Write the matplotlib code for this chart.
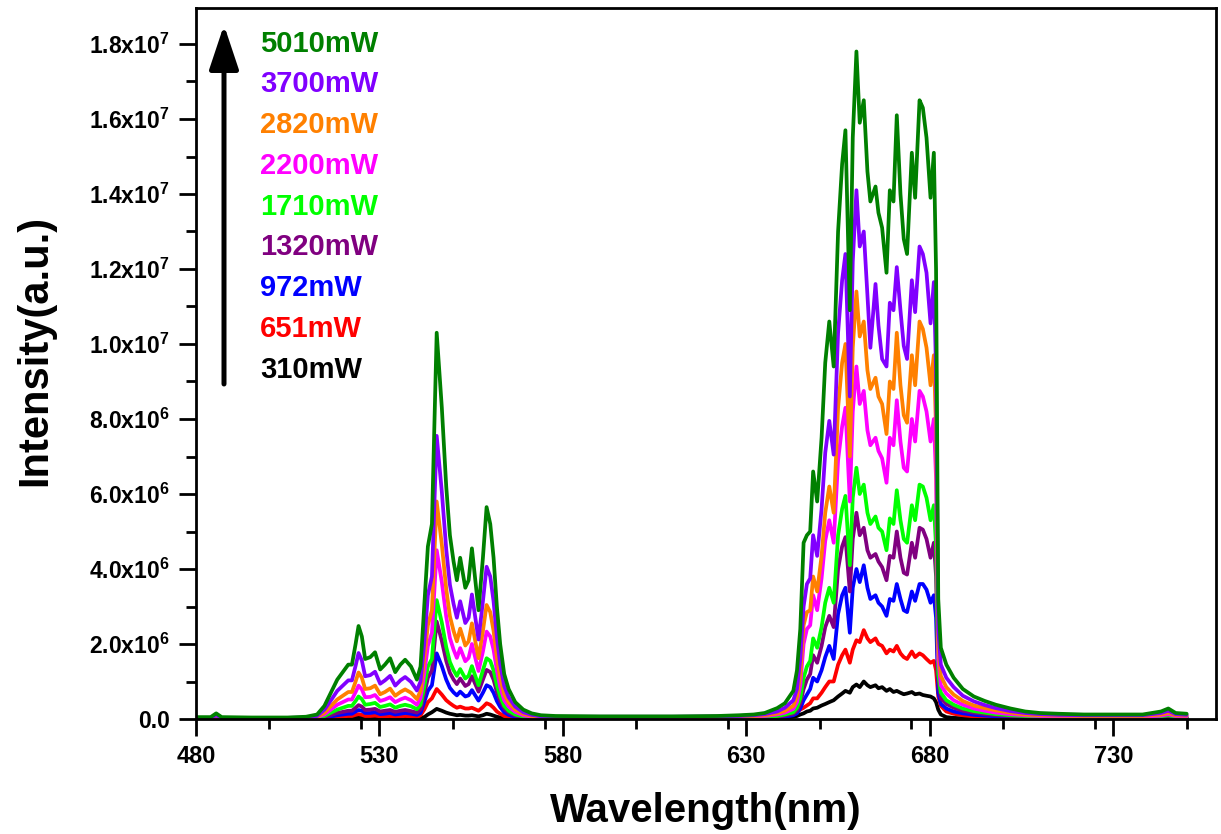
import matplotlib
matplotlib.use('Agg')
import matplotlib.pyplot as plt
from matplotlib.ticker import MultipleLocator

# ---------------- data (intensity in units of 1e6 a.u.) ----------------
wavelength = [480, 484, 485.5, 487, 495, 505, 510, 513,
              515, 517, 518.5, 520, 521.5, 522.5, 523.5, 524.3, 525.2, 526.1, 527.5, 528.8,
              530.2, 531.5, 532.9, 534.3, 535.7, 537.0, 538.6, 540.2,
              541.2, 542.2, 543.2, 544.3, 545.6, 547.0, 548.2, 549.2, 550.2, 551.1,
              552.0, 553.4, 554.3, 555.2, 557.0, 558.2, 559.2, 560.2, 561.1, 562.0,
              562.9, 564.0, 565.2, 567, 569.2, 571.5, 574, 578,
              590, 610, 622, 628, 632, 635,
              638.4, 640.5, 642.8, 643.8, 644.7, 645.6, 646.5, 647.4, 648.2, 649.3, 650.5, 651.5, 652.6, 653.8,
              655.0, 656.1, 657.0, 658.2, 659.0, 660.0, 660.9, 662.0, 663.0, 663.8,
              665.2, 666.0, 667.0, 668.2, 669.1, 670.1, 671.0, 672.0, 672.9, 673.8,
              675.1, 676.0, 677.2, 678.1, 679.1, 680.2, 681.1, 681.7,
              682.3, 683.0, 684.5, 686.5, 689, 692, 695, 698, 702, 706,
              710, 715, 722, 730, 738, 743, 745, 747, 750]

p5010 = [0.05, 0.05, 0.15, 0.05, 0.04, 0.04, 0.06, 0.12,
         0.35, 0.75, 1.05, 1.25, 1.45, 1.45, 2.0, 2.48, 2.2, 1.6, 1.65, 1.78, 1.32, 1.45, 1.62, 1.25, 1.45, 1.58, 1.4, 1.05,
         1.4, 3.0, 4.6, 5.2, 10.3, 8.3, 6.2, 4.9, 4.2, 3.7, 4.3, 3.5, 3.7, 4.55, 2.9, 4.3, 5.65, 5.2, 4.3, 3.0, 2.0, 1.2, 0.8, 0.45, 0.25, 0.15, 0.1, 0.08,
         0.07, 0.07, 0.08, 0.1, 0.12, 0.16,
         0.29, 0.42, 0.75, 1.3, 2.4, 4.7, 4.9, 5.0, 6.6, 5.8, 7.5, 9.5, 10.6, 9.4,
         13.0, 14.8, 15.7, 10.9, 15.5, 17.8, 15.9, 16.5, 14.6, 13.8, 14.2, 13.5, 13.1, 11.9, 14.1, 13.8, 16.1, 14.0, 12.8, 12.4, 15.1, 13.9, 16.5, 16.3, 15.5, 13.9, 15.1, 12.0,
         3.2, 1.9, 1.45, 1.1, 0.8, 0.6, 0.48, 0.38, 0.28, 0.2, 0.16, 0.14, 0.12, 0.12, 0.12, 0.2, 0.28, 0.16, 0.14]

p3700 = [0.03, 0.03, 0.1, 0.03, 0.03, 0.03, 0.04, 0.08,
         0.25, 0.53, 0.75, 0.89, 1.03, 1.03, 1.42, 1.76, 1.56, 1.14, 1.17, 1.26, 0.94, 1.03, 1.15, 0.89, 1.03, 1.12, 0.99, 0.76,
         1.0, 2.0, 3.3, 3.8, 7.55, 6.06, 4.53, 3.58, 3.07, 2.7, 3.14, 2.56, 2.7, 3.32, 2.12, 3.14, 4.06, 3.8, 3.14, 2.19, 1.46, 0.88, 0.58, 0.33, 0.18, 0.11, 0.07, 0.06,
         0.06, 0.06, 0.07, 0.08, 0.1, 0.13,
         0.2, 0.3, 0.5, 0.8, 1.6, 3.0, 3.6, 3.75, 4.9, 4.35, 5.6, 7.1, 7.95, 7.05,
         10.3, 11.7, 12.4, 8.6, 12.2, 14.1, 12.6, 13.0, 11.3, 9.9, 11.6, 10.5, 9.6, 9.4, 11.1, 10.9, 12.05, 10.9, 9.95, 9.6, 11.7, 10.85, 12.6, 12.4, 11.9, 10.55, 11.65, 9.3,
         2.4, 1.45, 1.1, 0.85, 0.62, 0.47, 0.37, 0.29, 0.21, 0.16, 0.13, 0.11, 0.1, 0.1, 0.1, 0.16, 0.22, 0.13, 0.11]

p2820 = [0.03, 0.03, 0.08, 0.03, 0.02, 0.02, 0.03, 0.06,
         0.17, 0.37, 0.52, 0.62, 0.72, 0.72, 1.0, 1.24, 1.1, 0.8, 0.82, 0.89, 0.66, 0.72, 0.81, 0.62, 0.72, 0.79, 0.7, 0.53,
         0.75, 1.6, 2.5, 2.9, 5.8, 4.65, 3.47, 2.74, 2.35, 2.07, 2.41, 1.96, 2.07, 2.55, 1.62, 2.35, 3.04, 2.85, 2.35, 1.65, 1.1, 0.66, 0.44, 0.25, 0.14, 0.08, 0.06, 0.05,
         0.05, 0.05, 0.06, 0.07, 0.08, 0.1,
         0.15, 0.22, 0.35, 0.6, 1.2, 2.5, 2.85, 2.9, 3.8, 3.4, 4.35, 5.5, 6.2, 5.5,
         8.3, 9.5, 10.0, 7.0, 9.9, 11.4, 10.2, 10.6, 9.3, 8.8, 9.1, 8.6, 8.4, 7.6, 9.0, 8.8, 10.3, 8.9, 8.1, 7.9, 9.7, 8.9, 10.6, 10.4, 9.9, 8.9, 9.7, 7.7,
         2.0, 1.15, 0.85, 0.65, 0.48, 0.36, 0.29, 0.23, 0.17, 0.12, 0.1, 0.09, 0.08, 0.08, 0.08, 0.12, 0.17, 0.1, 0.09]

p2200 = [0.02, 0.02, 0.06, 0.02, 0.02, 0.02, 0.03, 0.05,
         0.12, 0.27, 0.38, 0.45, 0.52, 0.52, 0.72, 0.89, 0.79, 0.58, 0.59, 0.64, 0.48, 0.52, 0.58, 0.45, 0.52, 0.57, 0.5, 0.38,
         0.56, 1.2, 1.95, 2.3, 4.5, 3.65, 2.73, 2.16, 1.85, 1.63, 1.89, 1.54, 1.63, 2.0, 1.28, 1.8, 2.33, 2.2, 1.85, 1.3, 0.86, 0.5, 0.33, 0.19, 0.1, 0.06, 0.05, 0.04,
         0.04, 0.04, 0.05, 0.06, 0.07, 0.08,
         0.12, 0.17, 0.27, 0.45, 0.9, 2.0, 2.4, 2.5, 3.3, 2.9, 3.75, 4.75, 5.3, 4.7,
         6.9, 7.8, 8.3, 5.8, 8.2, 9.4, 8.4, 8.75, 7.7, 7.3, 7.5, 7.15, 6.95, 6.3, 7.5, 7.3, 8.5, 7.4, 6.7, 6.6, 8.0, 7.4, 8.75, 8.6, 8.2, 7.4, 8.0, 6.4,
         1.6, 0.9, 0.68, 0.5, 0.38, 0.28, 0.22, 0.17, 0.13, 0.1, 0.08, 0.07, 0.06, 0.06, 0.06, 0.09, 0.13, 0.08, 0.07]

p1710 = [0.02, 0.02, 0.05, 0.02, 0.02, 0.02, 0.02, 0.04,
         0.08, 0.18, 0.25, 0.3, 0.35, 0.35, 0.48, 0.6, 0.53, 0.38, 0.4, 0.43, 0.32, 0.35, 0.39, 0.3, 0.35, 0.38, 0.34, 0.26,
         0.38, 0.85, 1.4, 1.6, 3.17, 2.57, 1.92, 1.52, 1.3, 1.15, 1.33, 1.08, 1.15, 1.41, 0.9, 1.3, 1.62, 1.55, 1.3, 0.9, 0.6, 0.35, 0.22, 0.12, 0.07, 0.05, 0.04, 0.03,
         0.03, 0.03, 0.04, 0.05, 0.05, 0.06,
         0.08, 0.12, 0.18, 0.3, 0.55, 1.1, 1.4, 1.55, 2.15, 1.9, 2.45, 3.1, 3.5, 3.1,
         4.9, 5.6, 5.95, 4.1, 5.9, 6.7, 6.0, 6.25, 5.5, 5.2, 5.4, 5.1, 5.0, 4.5, 5.35, 5.2, 6.1, 5.3, 4.8, 4.7, 5.7, 5.3, 6.25, 6.2, 5.9, 5.3, 5.7, 4.6,
         1.2, 0.7, 0.5, 0.38, 0.28, 0.21, 0.17, 0.13, 0.1, 0.08, 0.06, 0.05, 0.05, 0.05, 0.05, 0.07, 0.1, 0.06, 0.05]

p1320 = [0.02, 0.02, 0.04, 0.02, 0.01, 0.01, 0.02, 0.03,
         0.05, 0.11, 0.16, 0.19, 0.22, 0.22, 0.3, 0.37, 0.33, 0.24, 0.25, 0.27, 0.2, 0.22, 0.24, 0.19, 0.22, 0.24, 0.21, 0.17,
         0.25, 0.65, 1.1, 1.3, 2.6, 2.08, 1.55, 1.23, 1.05, 0.93, 1.08, 0.88, 0.93, 1.14, 0.73, 1.05, 1.31, 1.25, 1.05, 0.72, 0.48, 0.28, 0.17, 0.09, 0.05, 0.04, 0.03, 0.03,
         0.03, 0.03, 0.03, 0.04, 0.04, 0.05,
         0.06, 0.09, 0.14, 0.22, 0.42, 0.8, 1.05, 1.2, 1.7, 1.5, 1.95, 2.45, 2.75, 2.45,
         4.0, 4.6, 4.85, 3.4, 4.8, 5.5, 4.9, 5.1, 4.5, 4.3, 4.4, 4.2, 4.05, 3.7, 4.35, 4.3, 5.0, 4.3, 3.9, 3.85, 4.7, 4.3, 5.1, 5.05, 4.8, 4.3, 4.7, 3.8,
         1.0, 0.55, 0.4, 0.3, 0.22, 0.17, 0.13, 0.1, 0.08, 0.06, 0.05, 0.04, 0.04, 0.04, 0.04, 0.06, 0.08, 0.05, 0.04]

p972 = [0.01, 0.01, 0.03, 0.01, 0.01, 0.01, 0.01, 0.02,
        0.03, 0.07, 0.1, 0.12, 0.14, 0.14, 0.2, 0.24, 0.22, 0.16, 0.16, 0.18, 0.13, 0.14, 0.16, 0.12, 0.14, 0.16, 0.14, 0.11,
        0.16, 0.45, 0.75, 0.9, 1.75, 1.41, 1.05, 0.83, 0.71, 0.63, 0.73, 0.6, 0.63, 0.77, 0.49, 0.7, 0.9, 0.85, 0.7, 0.48, 0.32, 0.18, 0.11, 0.06, 0.04, 0.03, 0.03, 0.02,
        0.02, 0.02, 0.03, 0.03, 0.03, 0.04,
        0.04, 0.06, 0.1, 0.15, 0.28, 0.5, 0.65, 0.8, 1.1, 1.0, 1.3, 1.65, 1.95, 1.6,
        2.8, 3.3, 3.5, 2.3, 3.5, 4.0, 3.65, 4.1, 3.5, 3.2, 3.3, 3.1, 3.0, 2.75, 3.2, 3.15, 3.6, 3.2, 2.9, 2.85, 3.4, 3.15, 3.6, 3.6, 3.45, 3.1, 3.3, 2.7,
        0.7, 0.4, 0.28, 0.2, 0.15, 0.11, 0.09, 0.07, 0.05, 0.04, 0.04, 0.03, 0.03, 0.03, 0.03, 0.04, 0.05, 0.03, 0.03]

p651 = [0.01, 0.01, 0.03, 0.01, 0.01, 0.01, 0.01, 0.01,
        0.01, 0.03, 0.05, 0.07, 0.08, 0.08, 0.11, 0.13, 0.11, 0.08, 0.08, 0.09, 0.07, 0.07, 0.08, 0.06, 0.07, 0.08, 0.07, 0.05,
        0.1, 0.25, 0.45, 0.55, 0.8, 0.65, 0.5, 0.42, 0.35, 0.3, 0.33, 0.28, 0.28, 0.3, 0.22, 0.32, 0.42, 0.38, 0.3, 0.2, 0.14, 0.08, 0.05, 0.03, 0.02, 0.02, 0.02, 0.02,
        0.02, 0.02, 0.02, 0.02, 0.03, 0.04,
        0.06, 0.1, 0.15, 0.2, 0.25, 0.3, 0.36, 0.42, 0.55, 0.55, 0.7, 0.85, 1.0, 1.0,
        1.45, 1.7, 1.85, 1.5, 1.85, 2.1, 2.05, 2.37, 2.15, 2.05, 2.15, 2.0, 1.95, 1.75, 1.85, 1.8, 1.95, 1.75, 1.65, 1.6, 1.8, 1.65, 1.75, 1.7, 1.6, 1.5, 1.55, 1.3,
        0.6, 0.35, 0.2, 0.14, 0.1, 0.07, 0.06, 0.05, 0.04, 0.03, 0.03, 0.03, 0.02, 0.02, 0.02, 0.03, 0.04, 0.02, 0.02]

p310 = [0.01, 0.01, 0.01, 0.01, 0.01, 0.01, 0.01, 0.01,
        0.0, 0.01, 0.01, 0.02, 0.02, 0.02, 0.03, 0.04, 0.03, 0.02, 0.02, 0.03, 0.02, 0.02, 0.02, 0.02, 0.02, 0.02, 0.02, 0.02,
        0.03, 0.05, 0.12, 0.18, 0.27, 0.22, 0.17, 0.14, 0.12, 0.1, 0.11, 0.09, 0.09, 0.1, 0.07, 0.1, 0.14, 0.12, 0.09, 0.06, 0.04, 0.02, 0.01, 0.01, 0.01, 0.01, 0.01, 0.01,
        0.01, 0.01, 0.01, 0.01, 0.01, 0.01,
        0.02, 0.03, 0.06, 0.08, 0.12, 0.15, 0.2, 0.22, 0.28, 0.3, 0.36, 0.4, 0.45, 0.5,
        0.6, 0.68, 0.75, 0.7, 0.85, 0.92, 0.85, 1.0, 0.9, 0.85, 0.9, 0.82, 0.85, 0.75, 0.8, 0.72, 0.75, 0.7, 0.66, 0.68, 0.72, 0.66, 0.68, 0.64, 0.62, 0.6, 0.55, 0.45,
        0.25, 0.12, 0.05, 0.03, 0.02, 0.02, 0.01, 0.01, 0.01, 0.01, 0.01, 0.01, 0.01, 0.01, 0.01, 0.01, 0.01, 0.01, 0.01]

labels = ['5010mW', '3700mW', '2820mW', '2200mW', '1710mW', '1320mW', '972mW', '651mW', '310mW']
colors = ['#008000', '#8000FF', '#FF8000', '#FF00FF', '#00FF00', '#800080', '#0000FF', '#FF0000', '#000000']
spectra = [p5010, p3700, p2820, p2200, p1710, p1320, p972, p651, p310]
scale = 1e6

xticks = [480, 530, 580, 630, 680, 730]
yticks = [0, 2e6, 4e6, 6e6, 8e6, 1e7, 1.2e7, 1.4e7, 1.6e7, 1.8e7]
ytick_labels = ['0.0', '2.0x10$^{6}$', '4.0x10$^{6}$', '6.0x10$^{6}$', '8.0x10$^{6}$',
                '1.0x10$^{7}$', '1.2x10$^{7}$', '1.4x10$^{7}$', '1.6x10$^{7}$', '1.8x10$^{7}$']

# ---------------- style ----------------
plt.rcParams['font.family'] = ['Liberation Sans', 'DejaVu Sans']
plt.rcParams['font.weight'] = 'bold'
plt.rcParams['mathtext.fontset'] = 'custom'
plt.rcParams['mathtext.rm'] = 'Liberation Sans:bold'
plt.rcParams['mathtext.it'] = 'Liberation Sans:bold'
plt.rcParams['mathtext.bf'] = 'Liberation Sans:bold'

W, H = 1221, 834
fig = plt.figure(figsize=(W / 100, H / 100), dpi=100)
ax_l, ax_r, ax_t, ax_b = 196, 1216, 8, 719
ax = fig.add_axes([ax_l / W, 1 - ax_b / H, (ax_r - ax_l) / W, (ax_b - ax_t) / H])

for lab, col, vals in reversed(list(zip(labels, colors, spectra))):
    ax.plot(wavelength, [v * scale for v in vals], color=col, lw=2.7,
            solid_joinstyle='round', solid_capstyle='round')

ax.set_xlim(480, 758)
ax.set_ylim(0, 1.896e7)
ax.set_xticks(xticks)
ax.set_xticklabels([str(t) for t in xticks])
ax.xaxis.set_minor_locator(MultipleLocator(25))
ax.set_yticks(yticks)
ax.set_yticklabels(ytick_labels)
ax.yaxis.set_minor_locator(MultipleLocator(1e6))

ax.tick_params(axis='both', which='major', direction='out', length=12, width=2, pad=7)
ax.tick_params(axis='both', which='minor', direction='out', length=7, width=2)
ax.tick_params(axis='x', labelsize=17)
ax.tick_params(axis='y', labelsize=16.5)
for lbl in ax.get_xticklabels() + ax.get_yticklabels():
    lbl.set_fontweight('bold')
for sp in ax.spines.values():
    sp.set_linewidth(2)

ax.set_xlabel('Wavelength(nm)', fontsize=29, fontweight='bold', va='top')
ax.xaxis.set_label_coords(0.5, -0.1027)
ax.set_ylabel('Intensity(a.u.)', fontsize=30, fontweight='bold')
ax.yaxis.set_label_coords(-0.138, 0.519)

# arrow + coloured labels (legend-like annotation)
ax.annotate('', xy=(224 / W, 1 - 25 / H), xytext=(224 / W, 1 - 384 / H),
            xycoords='figure fraction', textcoords='figure fraction',
            arrowprops=dict(arrowstyle='-|>,head_length=0.66,head_width=0.22',
                            color='black', lw=3.6, mutation_scale=41, shrinkA=0, shrinkB=0))
y0, dy = 43.5, 40.8
for i, (lab, col) in enumerate(zip(labels, colors)):
    fig.text(260 / W, 1 - (y0 + i * dy) / H, lab, color=col, fontsize=21,
             fontweight='bold', ha='left', va='center')

fig.savefig('out.png', dpi=100)
